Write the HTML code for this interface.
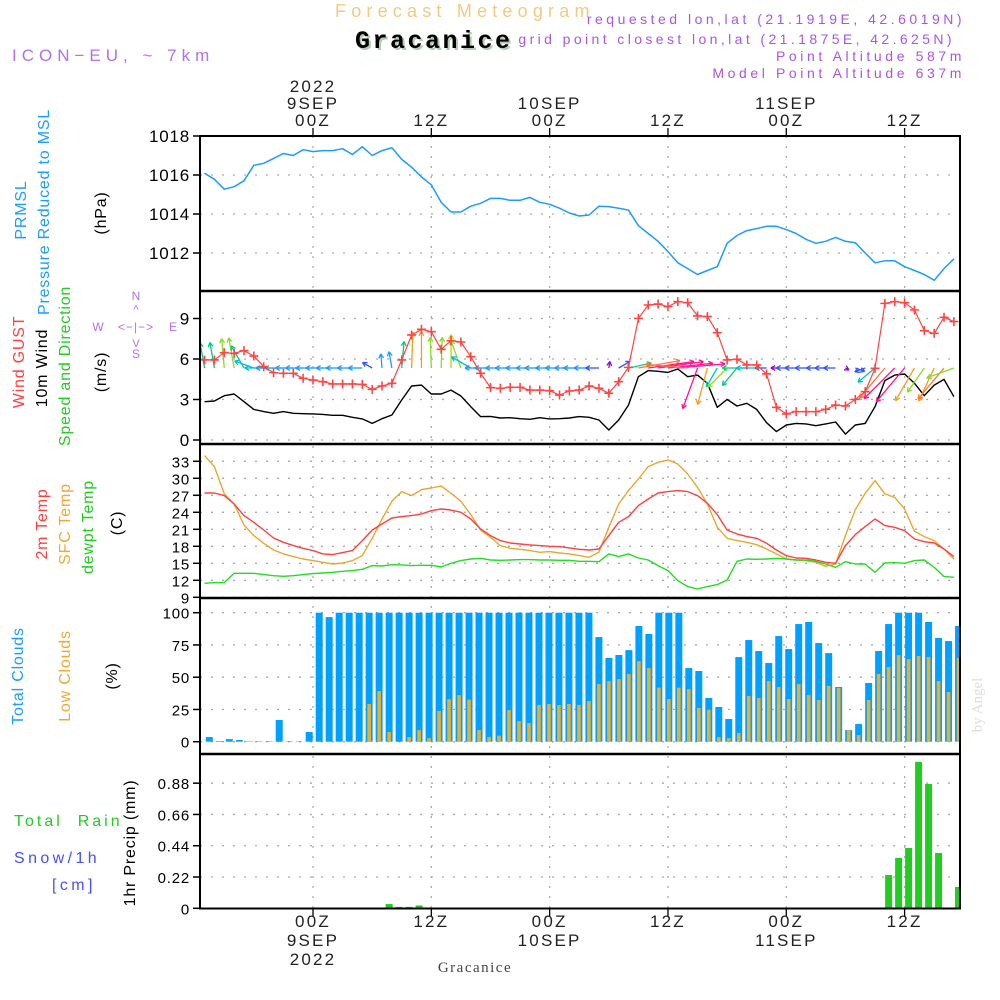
<!DOCTYPE html>
<html><head><meta charset="utf-8">
<style>
html,body{margin:0;padding:0;background:#fff;}
svg{display:block;font-family:"Liberation Sans",sans-serif;}
</style></head>
<body>
<svg id="chart" width="1000" height="1000" viewBox="0 0 1000 1000" xmlns="http://www.w3.org/2000/svg">
<rect x="0" y="0" width="1000" height="1000" fill="#fff"/>
<!-- header -->
<text x="335" y="17" font-size="18" fill="#f2c980" letter-spacing="5.2">Forecast Meteogram</text>
<text x="355" y="48" font-size="25" font-weight="bold" font-family="Liberation Mono, monospace" fill="#b8c8b8" letter-spacing="2.5" transform="translate(2,2)">Gracanice</text>
<text x="355" y="48" font-size="25" font-weight="bold" font-family="Liberation Mono, monospace" fill="#000" letter-spacing="2.5">Gracanice</text>
<text x="965" y="24" font-size="14" fill="#a855e8" text-anchor="end" letter-spacing="3.5">requested lon,lat (21.1919E, 42.6019N)</text>
<text x="955" y="44" font-size="14" fill="#a855e8" text-anchor="end" letter-spacing="3.4">grid point closest lon,lat (21.1875E, 42.625N)</text>
<text x="965" y="61" font-size="14" fill="#a855e8" text-anchor="end" letter-spacing="3.6">Point Altitude 587m</text>
<text x="965" y="78" font-size="14" fill="#a855e8" text-anchor="end" letter-spacing="3.6">Model Point Altitude 637m</text>
<text x="12" y="61" font-size="17" fill="#b070f0" letter-spacing="5">ICON−EU, ~ 7km</text>

<!-- left labels -->
<g font-size="16" letter-spacing="0.8">
<text transform="translate(26,210) rotate(-90)" text-anchor="middle" fill="#1e9bff">PRMSL</text>
<text transform="translate(49,212) rotate(-90)" text-anchor="middle" fill="#1e9bff">Pressure Reduced to MSL</text>
<text transform="translate(106,213) rotate(-90)" text-anchor="middle" fill="#000">(hPa)</text>
<text transform="translate(24,362) rotate(-90)" text-anchor="middle" fill="#ff4040">Wind GUST</text>
<text transform="translate(47,368) rotate(-90)" text-anchor="middle" fill="#000">10m Wind</text>
<text transform="translate(70,366) rotate(-90)" text-anchor="middle" fill="#22cc22">Speed and Direction</text>
<text transform="translate(106,372) rotate(-90)" text-anchor="middle" fill="#000">(m/s)</text>
<text transform="translate(47,524) rotate(-90)" text-anchor="middle" fill="#ff4040">2m Temp</text>
<text transform="translate(70,524) rotate(-90)" text-anchor="middle" fill="#f0a830">SFC Temp</text>
<text transform="translate(93,527) rotate(-90)" text-anchor="middle" fill="#22cc22">dewpt Temp</text>
<text transform="translate(122,523) rotate(-90)" text-anchor="middle" fill="#000">(C)</text>
<text transform="translate(23,676) rotate(-90)" text-anchor="middle" fill="#1e9bff">Total Clouds</text>
<text transform="translate(70,676) rotate(-90)" text-anchor="middle" fill="#f0a830">Low Clouds</text>
<text transform="translate(117,676) rotate(-90)" text-anchor="middle" fill="#000">(%)</text>
<text x="14" y="826" fill="#22cc22" letter-spacing="3" xml:space="preserve">Total  Rain</text>
<text x="14" y="863" fill="#4c4cff" letter-spacing="3.4">Snow/1h</text>
<text x="52" y="890" fill="#4c4cff" letter-spacing="3.4">[cm]</text>
<text transform="translate(135,843) rotate(-90)" text-anchor="middle" fill="#000">1hr Precip (mm)</text>
</g>
<!-- compass -->
<g fill="#b070f0" font-size="12">
<text x="136" y="300" text-anchor="middle">N</text>
<text x="136" y="358" text-anchor="middle">S</text>
<text x="98" y="331" text-anchor="middle">W</text>
<text x="173" y="331" text-anchor="middle">E</text>
<text x="136" y="331" text-anchor="middle" font-size="12" letter-spacing="1">&lt;−|−&gt;</text>
<text x="136" y="313" text-anchor="middle" font-size="11">^</text>
<text x="136" y="347" text-anchor="middle" font-size="11">V</text>
</g>
<text transform="translate(982,705) rotate(-90)" text-anchor="middle" font-family="Liberation Serif, serif" font-size="15" fill="#ddd">by Angel</text>
<text x="475" y="972" text-anchor="middle" font-family="Liberation Serif, serif" font-size="15" fill="#444" letter-spacing="1.5">Gracanice</text>

<g id="grid"></g>
<g id="marks"></g>
<g id="frame"></g>
<g id="labels"></g>
</svg>
<script>
// ===== data (hourly; first point = 11h before 00Z 9 SEP) =====
const pressure = [1016.09,1015.78,1015.27,1015.4,1015.7,1016.5,1016.6,1016.85,1017.1,1017.0,1017.3,1017.2,1017.25,1017.25,1017.35,1017.05,1017.45,1017.0,1017.25,1017.4,1016.8,1016.4,1015.9,1015.5,1014.6,1014.1,1014.1,1014.4,1014.55,1014.8,1014.8,1014.7,1014.7,1014.85,1014.6,1014.5,1014.3,1014.05,1013.9,1013.95,1014.4,1014.38,1014.3,1014.2,1013.4,1013.0,1012.6,1012.07,1011.5,1011.2,1010.9,1011.1,1011.3,1012.5,1012.9,1013.15,1013.25,1013.37,1013.37,1013.2,1013.0,1012.7,1012.5,1012.6,1012.8,1012.6,1012.53,1012.0,1011.5,1011.6,1011.6,1011.3,1011.1,1010.9,1010.6,1011.2,1011.7];
const wind10m = [2.84,2.89,3.28,3.41,2.84,2.27,2.10,1.98,2.10,1.98,1.95,1.93,1.9,1.83,1.83,1.68,1.56,1.23,1.58,1.85,2.96,4.0,4.07,3.41,3.41,3.7,3.26,2.47,1.73,1.75,1.63,1.65,1.58,1.53,1.65,1.56,1.58,1.63,1.73,1.68,1.48,0.74,1.48,2.59,4.69,5.14,5.09,5.01,5.26,4.69,4.81,4.2,2.42,3.01,2.52,2.72,2.27,1.28,0.62,1.11,1.23,1.19,1.06,1.19,1.33,0.44,1.11,1.23,2.47,4.4,4.81,4.89,4.2,3.28,4.07,4.49,3.21];
const windGust = [5.93,5.93,6.47,6.42,6.62,6.22,5.43,4.99,4.94,4.94,4.57,4.44,4.32,4.15,4.15,4.15,4.12,3.75,4.0,4.2,5.93,7.78,8.2,8.02,6.72,7.36,7.26,6.17,4.94,3.88,3.83,3.9,3.9,3.7,3.7,3.65,3.33,3.63,3.7,4.0,3.83,3.46,4.32,5.38,9.01,10.0,10.07,9.88,10.25,10.17,9.19,9.14,7.95,5.93,5.98,5.56,5.56,4.89,2.42,1.93,2.10,2.10,2.10,2.27,2.59,2.52,3.01,3.58,5.31,10.12,10.25,10.17,9.63,8.1,7.9,9.09,8.77];
const windDir = [100,100,95,100,120,160,180,180,180,180,180,180,180,180,180,180,180,150,95,100,85,88,90,92,88,90,110,150,180,180,180,180,180,180,180,180,180,180,180,180,180,80,30,12,10,8,8,6,5,175,250,255,240,225,230,180,180,180,180,180,180,180,180,180,180,-30,-20,200,220,230,225,230,240,235,245,230,200];
const temp2m = [27.41,27.41,26.94,25.47,23.41,22.24,20.88,19.47,18.71,18.12,17.65,17.24,16.65,16.53,16.88,17.24,19.0,20.88,21.94,23.0,23.24,23.41,23.71,24.29,24.59,24.41,24.0,22.82,21.06,19.88,19.0,18.59,18.41,18.24,18.12,18.0,17.94,17.71,17.47,17.35,17.53,19.88,22.24,23.24,25.18,26.35,27.41,27.65,27.82,27.65,26.94,25.59,23.59,20.88,20.18,19.71,19.41,18.53,17.35,16.35,15.94,15.88,15.59,15.18,15.0,18.12,20.06,21.47,22.82,21.65,21.35,20.76,19.29,18.82,18.59,17.53,16.18];
const tempSfc = [34.0,32.06,27.24,25.47,21.76,19.88,18.53,17.35,16.65,16.18,15.76,15.47,15.18,14.88,15.06,15.47,16.35,19.41,22.82,25.94,27.65,26.94,28.0,28.29,28.65,27.35,25.94,23.59,20.88,19.59,18.12,17.65,17.47,17.24,16.94,17.06,16.82,16.65,16.35,16.06,16.94,21.35,25.47,27.82,29.88,32.06,32.82,33.24,32.53,30.76,28.41,25.47,21.35,19.41,19.0,18.71,18.29,17.53,16.65,15.76,15.59,15.47,15.18,14.47,14.88,19.88,24.47,27.35,29.59,27.24,26.65,24.59,20.65,19.71,19.0,17.53,15.76];
const dewpt = [11.47,11.59,11.59,13.24,13.24,13.24,13.0,12.82,12.71,12.82,13.0,13.18,13.29,13.41,13.59,13.71,13.94,14.59,14.53,14.76,14.71,14.59,14.65,14.65,14.35,15.0,15.47,15.76,15.88,15.59,15.53,15.59,15.65,15.65,15.59,15.59,15.53,15.53,15.35,15.35,15.29,16.65,16.18,16.65,15.94,15.59,14.59,13.71,11.94,10.88,10.47,10.88,11.24,12.06,15.35,15.76,15.71,15.76,15.88,15.76,15.59,15.59,15.35,14.88,14.29,15.29,14.88,14.88,13.41,15.06,15.12,15.0,15.47,15.59,14.29,12.65,12.53];
const totalClouds = [3.6,0.5,2,1.3,0.3,0.3,0.3,16.8,0.3,0.3,7.5,100,96.6,100,100,100,100,100,100,100,100,100,100,100,100,100,100,100,100,100,100,100,100,100,100,100,100,100,100,81.1,64.9,67.2,71,89.7,83.5,100,100,100,57.1,54.8,33.9,26.9,17.6,65.6,78.8,70.3,61,81.9,71.8,91.2,92.8,76.5,68.7,42.4,9,13.7,45.5,70.3,91.2,100,100,100,92.8,80.4,78,89.7];
const lowClouds = [0,0,0,0,0,0,0,0,0,0,0,0,0,0,0,0,29.2,39.3,7.5,0,3.6,9,2.8,23.8,33,36.2,32.6,9,3.6,4.7,24.5,16,14.5,28.4,29.2,28.4,29.2,28.4,31.5,44.7,47,48.6,52.5,62.5,57.1,41.9,33.1,41.9,40.8,26.1,24.8,3.6,2.8,6.7,35.4,33.9,47,42.4,33.1,44.7,36.2,32.3,43.2,41.6,9,5.2,32.3,52.5,57.9,67.2,64.1,66.4,65.6,47,38.5,64.9];
const precip = [0,0,0,0,0,0,0,0,0,0,0,0,0,0,0,0,0,0,0.03,0.01,0.01,0.02,0,0,0,0,0,0,0,0,0,0,0,0,0,0,0,0,0,0,0,0,0,0,0,0,0,0,0,0,0,0,0,0,0,0,0,0,0,0,0,0,0,0,0,0,0,0.005,0.234,0.354,0.424,1.03,0.874,0.389,0,0.15];
const pTicks = [1018,1016,1014,1012];
const wTicks = [9,6,3,0];
const tTicks = [33,30,27,24,21,18,15,12,9];
const cTicks = [100,75,50,25,0];
const rTicks = [0.88,0.66,0.44,0.22,0];
const timeTicks = [0,12,24,36,48,60];
const topLabels = [["2022","9SEP","00Z"],["","","12Z"],["","10SEP","00Z"],["","","12Z"],["","11SEP","00Z"],["","","12Z"]];
const bottomLabels = [["00Z","9SEP","2022"],["12Z","",""],["00Z","10SEP",""],["12Z","",""],["00Z","11SEP",""],["12Z","",""]];

// ===== scales =====
const NS="http://www.w3.org/2000/svg";
const X0=200, X1=960;
const xHour = h => 313 + h*9.86;
const xLine = i => xHour(i - 11);
const xBar = i => 209.3 + i*9.99;
const yP = p => 136 + (1018 - p)*19.5;
const yW = v => 440 - v*13.5;
const yT = t => 597.3 - (t - 9)*5.667;
const yC = c => 741.7 - c*1.29;
const yR = r => 908.3 - r*142.2;
const panels = [[136,291],[291,444],[444,598],[598,754],[754,908.5]];

function el(tag, attrs, parent){
  const e=document.createElementNS(NS,tag);
  for(const k in attrs) e.setAttribute(k,attrs[k]);
  parent.appendChild(e); return e;
}
const grid=document.getElementById('grid'), marks=document.getElementById('marks'),
      frame=document.getElementById('frame'), labels=document.getElementById('labels');

function hGrid(vals, sc, name, fmt, fs){
  vals.forEach(v=>{
    const y=sc(v);
    const g=el('line',{x1:X0,x2:X1,y1:y,y2:y,stroke:'#aaa','stroke-width':1.3,'stroke-dasharray':'2,9'},grid);
    
    
    const tk=el('line',{x1:X0-7,x2:X0,y1:y,y2:y,stroke:'#000','stroke-width':1.5},frame);
    
    
    const t=el('text',{x:X0-10,y:y+6,'text-anchor':'end','font-size':fs,fill:'#000','letter-spacing':0.8},labels);
    t.textContent=fmt(v);
    
    
  });
}
hGrid(pTicks,yP,'pressure',v=>v,17);
hGrid(wTicks,yW,'wind',v=>v,17);
hGrid(tTicks,yT,'temp',v=>v,15);
hGrid(cTicks,yC,'cloud',v=>v,15);
hGrid(rTicks,yR,'precip',v=>v===0?'0':v.toFixed(2),15);

timeTicks.forEach((h,k)=>{
  const x=xHour(h);
  const g=el('line',{x1:x,x2:x,y1:136,y2:908,stroke:'#aaa','stroke-width':1.3,'stroke-dasharray':'2,8'},grid);
  
  
  const t1=el('line',{x1:x,x2:x,y1:128,y2:136,stroke:'#000','stroke-width':1.3},frame);
  
  
  const t2=el('line',{x1:x,x2:x,y1:908,y2:916,stroke:'#000','stroke-width':1.3},frame);
  
  
  topLabels[k].forEach((s,j)=>{
    if(!s) return;
    const t=el('text',{x:x,y:92+j*17,'text-anchor':'middle','font-size':17,fill:'#222','letter-spacing':2.2},labels);
    t.textContent=s;
    
    
  });
  bottomLabels[k].forEach((s,j)=>{
    if(!s) return;
    const t=el('text',{x:x,y:927+j*19,'text-anchor':'middle','font-size':17,fill:'#222','letter-spacing':2.2},labels);
    t.textContent=s;
    
    
  });
});

const defs=el('defs',{},marks);
const cp=el('clipPath',{id:'plotclip'},defs);
el('rect',{x:X0,y:136,width:X1-X0,height:772.5},cp);
const mg=el('g',{'clip-path':'url(#plotclip)'},marks);

function poly(arr, xs, ys, color, name, w){
  const pts=arr.map((v,i)=>xs(i).toFixed(1)+','+ys(v).toFixed(1)).join(' ');
  const p=el('polyline',{points:pts,fill:'none',stroke:color,'stroke-width':w||1.3,'stroke-linejoin':'round'},mg);
  
  
}
poly(pressure,xLine,yP,'#1e9bff','pressure-line',1.5);

totalClouds.forEach((v,i)=>{
  const x=xBar(i)-3.5, y=yC(v);
  const b=el('rect',{x:x,y:y,width:7,height:yC(0)-y,fill:'#00a0ff'},mg);
  
  
});
lowClouds.forEach((v,i)=>{
  if(v<=0) return;
  const x=xBar(i)-1.8, y=yC(v);
  const b=el('rect',{x:x,y:y,width:3.6,height:yC(0)-y,fill:'#e8b030'},mg);
  
  
});
precip.forEach((v,i)=>{
  if(v<=0) return;
  const x=xBar(i)-3.5, y=yR(v);
  const b=el('rect',{x:x,y:y,width:7,height:Math.max(1,yR(0)-y),fill:'#22cc22'},mg);
  
  
});

poly(tempSfc,xLine,yT,'#e8a830','sfc-temp-line',1.4);
poly(temp2m,xLine,yT,'#ff4040','temp2m-line',1.4);
poly(dewpt,xLine,yT,'#22dd22','dewpt-line',1.4);

poly(wind10m,xLine,yW,'#000','wind10m-line',1.4);
function spdColor(s){
  if(s<1) return '#9900dd';
  if(s<1.5) return '#3355ff';
  if(s<2) return '#1e9bff';
  if(s<2.5) return '#00c0d0';
  if(s<3) return '#00cc88';
  if(s<3.5) return '#88dd22';
  if(s<3.8) return '#cccc00';
  if(s<4.3) return '#f0a020';
  if(s<4.8) return '#ff7733';
  return '#ff1090';
}
windDir.forEach((d,i)=>{
  const s=wind10m[i], L=Math.max(4,s*9), a=d*Math.PI/180;
  const x0=xLine(i), y0=368;
  const x1=x0+L*Math.cos(a), y1=y0-L*Math.sin(a);
  const c=spdColor(s);
  const g=el('g',{stroke:c,'stroke-width':1.3,fill:'none'},mg);
  
  
  el('line',{x1:x0,y1:y0,x2:x1,y2:y1},g);
  const hl=5;
  [a+Math.PI-0.5,a+Math.PI+0.5].forEach(b=>{
    el('line',{x1:x1,y1:y1,x2:x1+hl*Math.cos(b),y2:y1-hl*Math.sin(b)},g);
  });
});
poly(windGust,xLine,yW,'#ff4444','gust-line',1.2);
windGust.forEach((v,i)=>{
  const x=xLine(i), y=yW(v);
  const m=el('path',{d:`M${x-4.5},${y}H${x+4.5}M${x},${y-4.5}V${y+4.5}`,stroke:'#ff4444','stroke-width':1.6},mg);
  
  
});

const fr=el('rect',{x:X0,y:136,width:X1-X0,height:772.5,fill:'none',stroke:'#000','stroke-width':2},frame);


panels.slice(1).forEach(p=>{
  const l=el('line',{x1:X0,x2:X1,y1:p[0],y2:p[0],stroke:'#000','stroke-width':2.5},frame);
  
  
});
</script>
</body></html>
